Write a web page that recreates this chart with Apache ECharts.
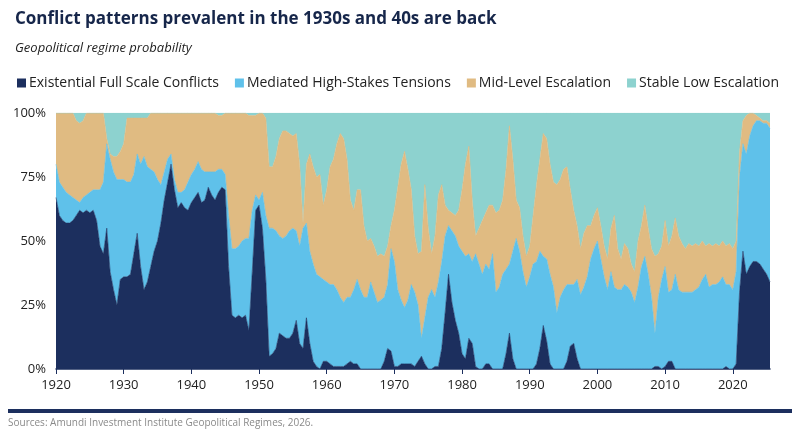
<!DOCTYPE html>
<html lang="en">
<head>
<meta charset="UTF-8">
<title>Geopolitical regime probability</title>
<script src="https://cdn.jsdelivr.net/npm/echarts@6/dist/echarts.min.js"></script>
<style>
    *{padding:0;margin:0;}
    html,body{width:800px;height:441px;background:#fff;}
    #main{width:800px;height:441px;}
</style>
</head>
<body>
<div id="main"></div>
<script>
    // half-year sampling grid, 1920.0 .. 2025.5
    var years = [];
    for (var y = 1920; y <= 2025.5; y += 0.5) years.push(String(y));

    var names = ['Existential Full Scale Conflicts', 'Mediated High-Stakes Tensions', 'Mid-Level Escalation', 'Stable Low Escalation'];

    // probabilities in %, one value per half year
    var existential = [
        67,60,58,57,57,58,60,62,61,62,61,62,58,48,45,55,38,31,25,35,
        36,36,37,45,53,40,31,34,40,46,50,57,66,73,80,70,63,65,63,62,
        65,67,69,65,66,71,68,66,69,71,70,40,21,20,21,20,21,15,38,62,
        64,55,35,5,6,8,14,13,12,12,14,19,10,8,20,10,3,1,0,3,
        3,2,1,1,1,1,2,3,2,2,0,0,0,0,0,0,0,3,8,7,
        1,1,2,2,2,2,1,3,5,2,0,0,1,1,8,22,37,26,19,14,
        6,4,12,10,1,0,0,2,2,0,0,0,0,6,14,4,0,0,0,0,
        0,0,2,8,17,11,2,0,0,0,0,3,9,10,4,0,0,0,0,0,
        0,0,0,0,0,0,0,0,0,0,0,0,0,0,0,0,0,1,1,0,
        1,3,3,0,0,0,0,0,0,0,0,0,0,0,0,0,0,0,1,0,
        0,2,30,46,37,40,42,42,41,39,37,34
    ];
    var mediated = [
        13,13,13,12,11,9,6,3,6,6,8,8,12,22,28,33,44,46,49,39,
        38,37,36,31,31,40,52,45,38,31,24,15,11,9,4,4,6,4,7,11,
        11,11,12,13,11,6,9,11,9,7,6,20,26,27,27,30,30,36,24,6,
        2,14,25,50,49,46,38,38,40,42,41,35,38,47,37,36,38,36,36,32,
        31,31,32,30,27,25,26,25,29,33,31,28,28,34,30,26,27,25,25,40,
        41,30,25,22,25,31,29,22,7,18,28,31,27,33,34,30,19,28,33,34,
        40,40,33,32,44,41,37,39,37,45,30,32,37,33,27,42,51,46,38,32,
        36,41,40,38,27,32,35,32,22,28,31,30,24,23,31,29,32,36,43,47,
        50,43,36,31,38,32,31,31,33,32,30,26,32,40,44,37,28,13,27,35,
        39,27,28,37,31,30,30,30,30,31,32,35,37,32,33,33,34,36,32,33,
        31,36,45,42,47,51,53,55,56,57,59,60
    ];
    var midLevel = [
        20,27,29,31,32,33,31,31,30,32,31,30,30,30,27,2,2,6,9,11,
        14,25,25,22,14,18,15,19,22,23,26,28,23,18,16,26,31,31,30,27,
        24,22,19,22,23,23,23,23,21,21,24,40,53,53,52,50,49,48,37,31,
        34,31,38,24,24,29,38,42,41,38,36,38,32,2,23,38,38,38,40,29,
        36,46,49,57,64,64,54,38,31,35,39,28,22,17,18,18,18,16,15,9,
        20,40,53,61,51,37,22,20,34,52,27,14,24,34,30,12,6,7,8,14,
        24,36,42,24,7,14,21,20,25,19,31,30,29,39,54,36,15,17,14,12,
        12,19,30,36,48,47,43,41,50,46,47,46,37,29,21,18,21,20,13,13,
        13,13,12,12,17,28,16,12,16,15,11,12,18,16,20,18,19,30,17,13,
        18,18,21,22,21,19,17,19,18,18,16,15,11,17,15,16,14,14,15,16,
        16,12,10,9,15,9,5,2,1,1,1,2
    ];
    var stableLow = [
        0,0,0,0,0,0,3,4,3,0,0,0,0,0,0,10,16,17,17,15,
        12,2,2,2,2,2,2,2,0,0,0,0,0,0,0,0,0,0,0,0,
        0,0,0,0,0,0,0,0,1,1,0,0,0,0,0,0,0,1,1,1,
        0,0,2,21,21,17,10,7,7,8,9,8,20,43,20,16,21,25,24,36,
        30,21,18,12,8,10,18,34,38,30,30,44,50,49,52,56,55,56,52,44,
        38,29,20,15,22,30,48,55,54,28,45,55,48,32,28,36,38,39,40,38,
        30,20,13,34,48,45,42,39,36,36,39,38,34,22,5,18,34,37,48,56,
        52,40,28,18,8,10,20,27,28,26,22,21,30,38,44,53,47,44,44,40,
        37,44,52,57,45,40,53,57,51,53,59,62,50,44,36,45,53,56,55,52,
        42,52,48,41,48,51,53,51,52,51,52,50,52,51,52,51,52,50,52,51,
        53,50,15,3,1,0,0,1,2,3,3,4
    ];

    var colors = ['#1c2f5e', '#5fc1ea', '#e0bb82', '#8dd2cf'];
    var values = [existential, mediated, midLevel, stableLow];
    var font = 'Open Sans';

    function isDecade(idx, val) {
        return Number(val) % 10 === 0;
    }

    function makeSeries(k) {
        return {
            name: names[k],
            type: 'line',
            stack: 'regime',
            symbol: 'none',
            data: values[k],
            lineStyle: {width: 0.6, color: colors[k]},
            areaStyle: {color: colors[k], opacity: 1},
            itemStyle: {color: colors[k]}
        };
    }

    var myChart = echarts.init(document.getElementById('main'));
    var option = {
        animation: false,
        backgroundColor: '#fff',
        title: [{
            text: 'Conflict patterns prevalent in the 1930s and 40s are back',
            left: 10,
            top: 6,
            textStyle: {fontFamily: font, fontWeight: 'bold', fontSize: 17, color: '#16264a'}
        }, {
            text: 'Geopolitical regime probability',
            left: 10,
            top: 37,
            textStyle: {fontFamily: font, fontStyle: 'italic', fontWeight: 'normal', fontSize: 13, color: '#222'}
        }],
        legend: {
            data: names,
            left: 12,
            top: 71,
            icon: 'rect',
            itemWidth: 9,
            itemHeight: 9,
            itemGap: 16,
            selectedMode: false,
            textStyle: {fontFamily: font, fontSize: 14, color: '#222', padding: [0, 0, 0, -2]}
        },
        grid: {left: 56, right: 30, top: 113, bottom: 72},
        xAxis: {
            type: 'category',
            data: years,
            boundaryGap: false,
            axisLine: {lineStyle: {color: '#1c2f5e', width: 1.5}},
            axisTick: {interval: isDecade, length: 5, lineStyle: {color: '#1c2f5e'}},
            axisLabel: {interval: isDecade, color: '#222', fontFamily: font, fontSize: 13, margin: 10},
            splitLine: {show: false}
        },
        yAxis: {
            type: 'value',
            min: 0,
            max: 100,
            interval: 25,
            axisLine: {show: false},
            axisTick: {show: false},
            axisLabel: {formatter: '{value}%', color: '#222', fontFamily: font, fontSize: 13, margin: 10},
            splitLine: {lineStyle: {color: 'rgba(255,255,255,0.28)', width: 1}}
        },
        graphic: [{
            type: 'rect',
            left: 8,
            top: 409,
            shape: {width: 784, height: 4},
            style: {fill: '#1c2f5e'}
        }, {
            type: 'text',
            left: 8,
            top: 418,
            style: {
                text: 'Sources: Amundi Investment Institute Geopolitical Regimes, 2026.',
                fill: '#8a8a8a',
                font: '10px "Open Sans"'
            }
        }],
        series: [makeSeries(0), makeSeries(1), makeSeries(2), makeSeries(3)]
    };
    myChart.setOption(option);
</script>
</body>
</html>
